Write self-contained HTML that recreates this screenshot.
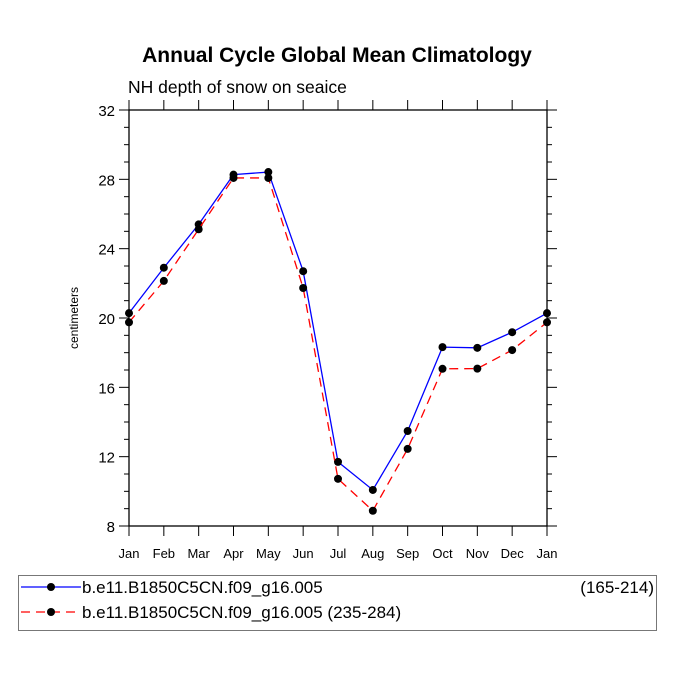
<!DOCTYPE html>
<html><head><meta charset="utf-8"><style>body{margin:0;background:#fff}svg{display:block;font-family:"Liberation Sans",Arial,sans-serif}</style></head>
<body>
<svg id="chart" width="675" height="676" viewBox="0 0 675 676" xmlns="http://www.w3.org/2000/svg">
<rect width="675" height="676" fill="#fff"/>
<text x="337" y="62" font-size="21" font-weight="bold" text-anchor="middle">Annual Cycle Global Mean Climatology</text>
<text x="128" y="93" font-size="17.5">NH depth of snow on seaice</text>
<text transform="translate(78,318) rotate(-90)" font-size="12" text-anchor="middle">centimeters</text>
<g id="axes"></g>
<g id="series"></g>
<g>
<rect x="18.5" y="575.5" width="638" height="55" fill="none" stroke="#777" stroke-width="1"/>
<line x1="21" y1="587" x2="81" y2="587" stroke="#0000ff" stroke-width="1.3"/>
<circle cx="51" cy="587" r="4" fill="#000"/>
<text x="82" y="593" font-size="17">b.e11.B1850C5CN.f09_g16.005</text>
<text x="654" y="593" font-size="17" text-anchor="end">(165-214)</text>
<line x1="21" y1="612" x2="81" y2="612" stroke="#ff0000" stroke-width="1.3" stroke-dasharray="9,6"/>
<circle cx="51" cy="612" r="4" fill="#000"/>
<text x="82" y="618" font-size="17">b.e11.B1850C5CN.f09_g16.005 (235-284)</text>
</g>
</svg>
<script>
const months = ["Jan","Feb","Mar","Apr","May","Jun","Jul","Aug","Sep","Oct","Nov","Dec","Jan"];
const controlValues = [20.28,22.9,25.4,28.27,28.42,22.7,11.7,10.08,13.48,18.32,18.28,19.18,20.28];
const testValues = [19.75,22.14,25.12,28.08,28.08,21.73,10.72,8.88,12.45,17.07,17.08,18.15,19.75];
const yTicks = [8,12,16,20,24,28,32];
const NS="http://www.w3.org/2000/svg";
const X0=129,X1=547,Y0=526,Y1=110,YMIN=8,YMAX=32;
function xs(i){return X0+(X1-X0)*i/(months.length-1);}
function ys(v){return Y0-(v-YMIN)/(YMAX-YMIN)*(Y0-Y1);}
function mk(tag,attrs,parent){const e=document.createElementNS(NS,tag);for(const k in attrs)e.setAttribute(k,attrs[k]);parent.appendChild(e);return e;}
const axes=document.getElementById('axes');
const frame=mk('rect',{x:X0,y:Y1,width:X1-X0,height:Y0-Y1,fill:'none',stroke:'#000','stroke-width':1.3},axes);


for(let v=YMIN;v<=YMAX;v++){
  const major=(v%4===0);const L=major?10:5;const y=ys(v);
  const t1=mk('line',{x1:X0-L,x2:X0,y1:y,y2:y,stroke:'#000','stroke-width':1},axes);
  
  
  const t2=mk('line',{x1:X1,x2:X1+L,y1:y,y2:y,stroke:'#000','stroke-width':1},axes);
  
  
}
yTicks.forEach(v=>{
  const t=mk('text',{x:X0-14,y:ys(v)+6,'font-size':15,'text-anchor':'end'},axes);t.textContent=v;
  
  
});
months.forEach((m,i)=>{
  const x=xs(i);
  const b=mk('line',{x1:x,x2:x,y1:Y0,y2:Y0+10,stroke:'#000','stroke-width':1},axes);
  
  
  const tp=mk('line',{x1:x,x2:x,y1:Y1-10,y2:Y1,stroke:'#000','stroke-width':1},axes);
  
  
  const t=mk('text',{x:x,y:558,'font-size':13,'text-anchor':'middle'},axes);t.textContent=m;
  
  
});
const ser=document.getElementById('series');
function draw(vals,color,dash,name){
  const p=mk('polyline',{points:vals.map((v,i)=>xs(i)+','+ys(v)).join(' '),fill:'none',stroke:color,'stroke-width':1.3},ser);
  if(dash)p.setAttribute('stroke-dasharray',dash);
  
  
  vals.forEach((v,i)=>{
    const c=mk('circle',{cx:xs(i),cy:ys(v),r:4,fill:'#000'},ser);
    
    
  });
}
draw(controlValues,'#0000ff',null,'control-series');
draw(testValues,'#ff0000','9,6','test-series');
</script>
</body></html>
